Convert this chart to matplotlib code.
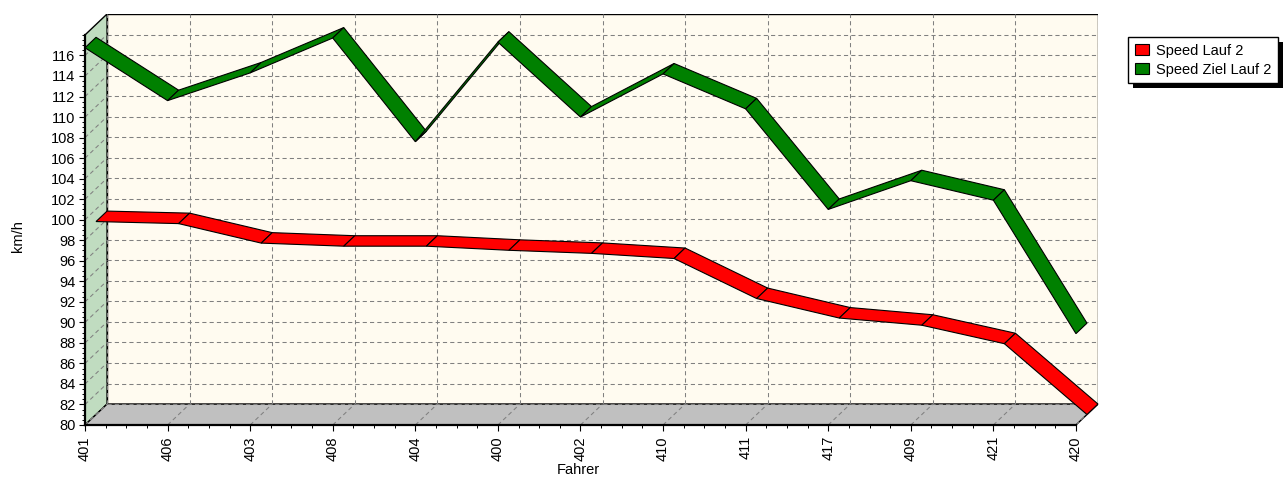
import matplotlib
matplotlib.use("Agg")
import matplotlib.pyplot as plt
from matplotlib.patches import Polygon, Patch, Rectangle
from matplotlib.transforms import IdentityTransform
import numpy as np

plt.rcParams['font.family'] = ['Liberation Sans', 'DejaVu Sans']

drivers = ["401", "406", "403", "408", "404", "400", "402", "410", "411", "417", "409", "421", "420"]
speed_lauf2 = [98.8, 98.6, 96.7, 96.4, 96.4, 96.0, 95.7, 95.2, 91.3, 89.4, 88.7, 86.9, 80.0]
speed_ziel_lauf2 = [116.75, 111.6, 114.3, 117.7, 107.6, 117.3, 110.0, 114.2, 110.8, 101.0, 103.8, 101.9, 88.9]

y_min, y_max = 80, 118
# depth of the 3d box, in data units (categories / km/h)
dep_x, dep_y = 0.267, 2.04

W, H = 1283, 478
fig = plt.figure(figsize=(W / 100, H / 100), dpi=100)
n = len(drivers)
ax = fig.add_axes([85 / W, 1 - 425 / H, (1098 - 85) / W, (425 - 14) / H])
ax.set_xlim(0, n - 1 + dep_x)
ax.set_ylim(y_min, y_max + dep_y)
ax.patch.set_visible(False)

# walls of the box
ax.add_patch(Rectangle((dep_x, y_min + dep_y), n - 1, y_max - y_min,
                       fc='#fffbf0', ec='black', lw=1, zorder=0))
ax.add_patch(Polygon([(0, y_min), (0, y_max), (dep_x, y_max + dep_y), (dep_x, y_min + dep_y)],
                     fc='#c0dcc0', ec='black', lw=1, zorder=0.5))
ax.add_patch(Polygon([(0, y_min), (n - 1, y_min), (n - 1 + dep_x, y_min + dep_y), (dep_x, y_min + dep_y)],
                     fc='#c0c0c0', ec='black', lw=1, zorder=0.5))

# dashed grid on back wall, left wall and floor
grid_kw = dict(color='#808080', lw=0.75, ls=(0, (4, 3)), zorder=1)
for v in range(y_min, y_max, 2):
    ax.plot([dep_x, n - 1 + dep_x], [v + dep_y, v + dep_y], **grid_kw)
    ax.plot([0, dep_x], [v, v + dep_y], **grid_kw)
for i in range(n):
    ax.plot([i + dep_x, i + dep_x], [y_min + dep_y, y_max + dep_y], **grid_kw)
    ax.plot([i, i + dep_x], [y_min, y_min + dep_y], **grid_kw)


def ribbon(values, z0, z1, color):
    for i in range(n - 1):
        pts = [(i + z0 * dep_x, values[i] + z0 * dep_y),
               (i + 1 + z0 * dep_x, values[i + 1] + z0 * dep_y),
               (i + 1 + z1 * dep_x, values[i + 1] + z1 * dep_y),
               (i + z1 * dep_x, values[i] + z1 * dep_y)]
        ax.add_patch(Polygon(pts, closed=True, fc=color, ec='black', lw=0.8,
                             zorder=3, clip_on=False))


# red series sits at the back half, green at the front half
ribbon(speed_lauf2, 0.5, 1.0, '#ff0000')
ribbon(speed_ziel_lauf2, 0.0, 0.5, '#008000')

for s in ['top', 'right']:
    ax.spines[s].set_visible(False)
ax.spines['left'].set_bounds(y_min, y_max)
ax.spines['bottom'].set_bounds(0, n - 1)
for s in ['left', 'bottom']:
    ax.spines[s].set_linewidth(1.6)
    ax.spines[s].set_zorder(4)

ax.set_xticks(range(n), drivers, rotation=90)
ax.set_xticks(np.arange(0, n - 1 + 0.01, 0.25), minor=True)
ax.set_yticks(range(80, 117, 2))
ax.set_yticks(np.arange(80, 118.01, 0.5), minor=True)
ax.tick_params(which='major', length=4.5, width=0.8, labelsize=10.5)
ax.tick_params(which='minor', length=2.5, width=0.7)
ax.tick_params(axis='y', pad=2.5)
ax.tick_params(axis='x', pad=3.5)

fig.text(18 / W, 1 - 236 / H, 'km/h', rotation=90, ha='center', va='center', fontsize=10.5)
fig.text(578 / W, 1 - 470 / H, 'Fahrer', ha='center', va='center', fontsize=10.5)

handles = [Patch(fc='#ff0000', ec='black', lw=0.8, label='Speed Lauf 2'),
           Patch(fc='#008000', ec='black', lw=0.8, label='Speed Ziel Lauf 2')]
leg = fig.legend(handles=handles, loc='upper left', bbox_to_anchor=(1128 / W, 1 - 37 / H),
                 frameon=True, fancybox=False, edgecolor='black', framealpha=1,
                 fontsize=10.5, borderpad=0.45, handlelength=1.0, handleheight=0.85,
                 handletextpad=0.45, labelspacing=0.35, borderaxespad=0)
leg.get_frame().set_linewidth(1.0)
fig.canvas.draw()
bb = leg.get_window_extent()
fig.add_artist(Rectangle((bb.x0 + 5, bb.y0 - 5), bb.width, bb.height, transform=IdentityTransform(),
                         fc='black', ec='none', zorder=4.9))

fig.savefig('out.png', dpi=100)
